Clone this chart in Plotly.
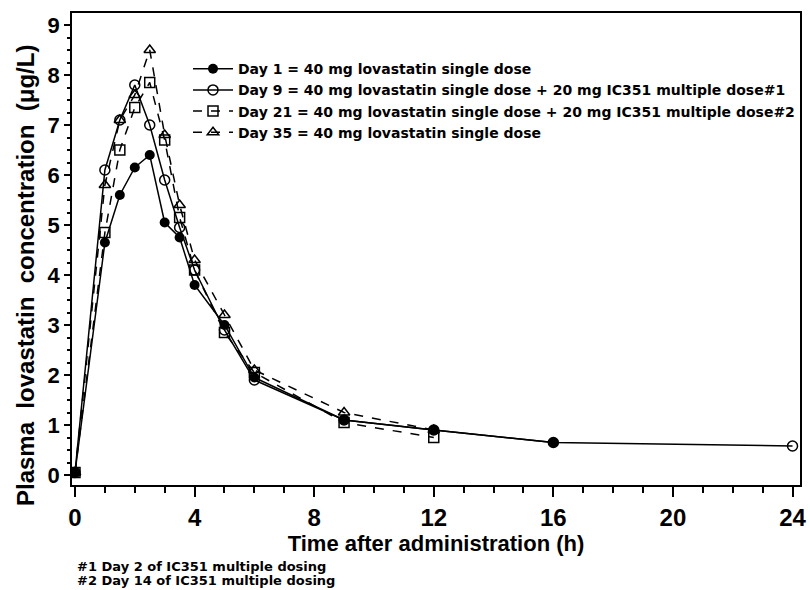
import plotly.graph_objects as go

# Time points (h)
t_day1 = [0, 1, 1.5, 2, 2.5, 3, 3.5, 4, 5, 6, 9, 12, 16]
c_day1 = [0.05, 4.65, 5.6, 6.15, 6.4, 5.05, 4.75, 3.8, 3.0, 1.95, 1.1, 0.9, 0.65]

t_day9 = [0, 1, 1.5, 2, 2.5, 3, 3.5, 4, 5, 6, 9, 12, 16, 24]
c_day9 = [0.05, 6.1, 7.1, 7.8, 7.0, 5.9, 4.95, 4.1, 2.9, 1.9, 1.1, 0.9, 0.65, 0.58]

t_day21 = [0, 1, 1.5, 2, 2.5, 3, 3.5, 4, 5, 6, 9, 12]
c_day21 = [0.05, 4.85, 6.5, 7.35, 7.85, 6.7, 5.15, 4.1, 2.85, 2.05, 1.05, 0.75]

t_day35 = [0, 1, 1.5, 2, 2.5, 3, 3.5, 4, 5, 6, 9, 12]
c_day35 = [0.05, 5.8, 7.1, 7.6, 8.5, 6.8, 5.4, 4.3, 3.2, 2.1, 1.25, 0.9]

names = [
    "Day 1 = 40 mg lovastatin single dose",
    "Day 9 = 40 mg lovastatin single dose + 20 mg IC351 multiple dose#1",
    "Day 21 = 40 mg lovastatin single dose + 20 mg IC351 multiple dose#2",
    "Day 35 = 40 mg lovastatin single dose",
]

x_ticks = [0, 4, 8, 12, 16, 20, 24]
y_ticks = [0, 1, 2, 3, 4, 5, 6, 7, 8, 9]

fig = go.Figure()

fig.add_trace(go.Scatter(
    x=t_day9, y=c_day9, name=names[1], mode="lines+markers", legendrank=2,
    line=dict(color="black", width=1.5),
    marker=dict(symbol="circle-open", size=10, color="black", line=dict(width=1.5))))
fig.add_trace(go.Scatter(
    x=t_day21, y=c_day21, name=names[2], mode="lines+markers", legendrank=3,
    line=dict(color="black", width=1.5, dash="dash"),
    marker=dict(symbol="square-open", size=10, color="black", line=dict(width=1.5))))
fig.add_trace(go.Scatter(
    x=t_day35, y=c_day35, name=names[3], mode="lines+markers", legendrank=4,
    line=dict(color="black", width=1.5, dash="dash"),
    marker=dict(symbol="triangle-up-open", size=10, color="black", line=dict(width=1.5))))
fig.add_trace(go.Scatter(
    x=t_day1, y=c_day1, name=names[0], mode="lines+markers", legendrank=1,
    line=dict(color="black", width=1.5),
    marker=dict(symbol="circle", size=10, color="black")))

bold = "bold"

fig.update_layout(
    width=810, height=590,
    margin=dict(l=72, r=10, t=13, b=105, autoexpand=False),
    paper_bgcolor="white", plot_bgcolor="white",
    showlegend=True,
    legend=dict(x=1.0, y=0.915, xanchor="right", yanchor="top", itemwidth=40,
                bgcolor="rgba(0,0,0,0)", tracegroupgap=0,
                font=dict(family="DejaVu Sans", size=14, color="black", weight=bold)),
    xaxis=dict(range=[-0.1, 24.25], tickvals=x_ticks, ticks="outside", ticklen=10,
               tickcolor="black", tickwidth=1.5,
               minor=dict(dtick=1, ticks="outside", ticklen=6, tickcolor="black"),
               showgrid=False, zeroline=False, showline=True, linecolor="black",
               linewidth=1.5, mirror=True,
               tickfont=dict(family="Arial", size=24, color="black", weight=bold),
               title=dict(text="Time after administration (h)", standoff=0,
                          font=dict(family="Arial", size=22, color="black", weight=bold))),
    yaxis=dict(range=[-0.2, 9.24], tickvals=y_ticks, ticks="outside", ticklen=6,
               tickcolor="black", tickwidth=1.5,
               minor=dict(dtick=0.25, ticks="outside", ticklen=3, tickcolor="black"),
               showgrid=False, zeroline=False, showline=True, linecolor="black",
               linewidth=1.5, mirror=True,
               tickfont=dict(family="Arial", size=22, color="black", weight=bold)),
    annotations=[
        dict(text="Plasma  lovastatin  concentration  (μg/L)", textangle=-90,
             xref="paper", yref="paper", x=-0.063, y=0.443,
             xanchor="center", yanchor="middle", showarrow=False,
             font=dict(family="Arial", size=24, color="black", weight=bold)),
        dict(text="#1 Day 2 of IC351 multiple dosing", xref="paper", yref="paper",
             x=0.004, y=-0.172, xanchor="left", yanchor="middle", showarrow=False,
             font=dict(family="DejaVu Sans", size=13, color="black", weight=bold)),
        dict(text="#2 Day 14 of IC351 multiple dosing", xref="paper", yref="paper",
             x=0.004, y=-0.202, xanchor="left", yanchor="middle", showarrow=False,
             font=dict(family="DejaVu Sans", size=13, color="black", weight=bold)),
    ],
)

fig.write_html("out.html")
